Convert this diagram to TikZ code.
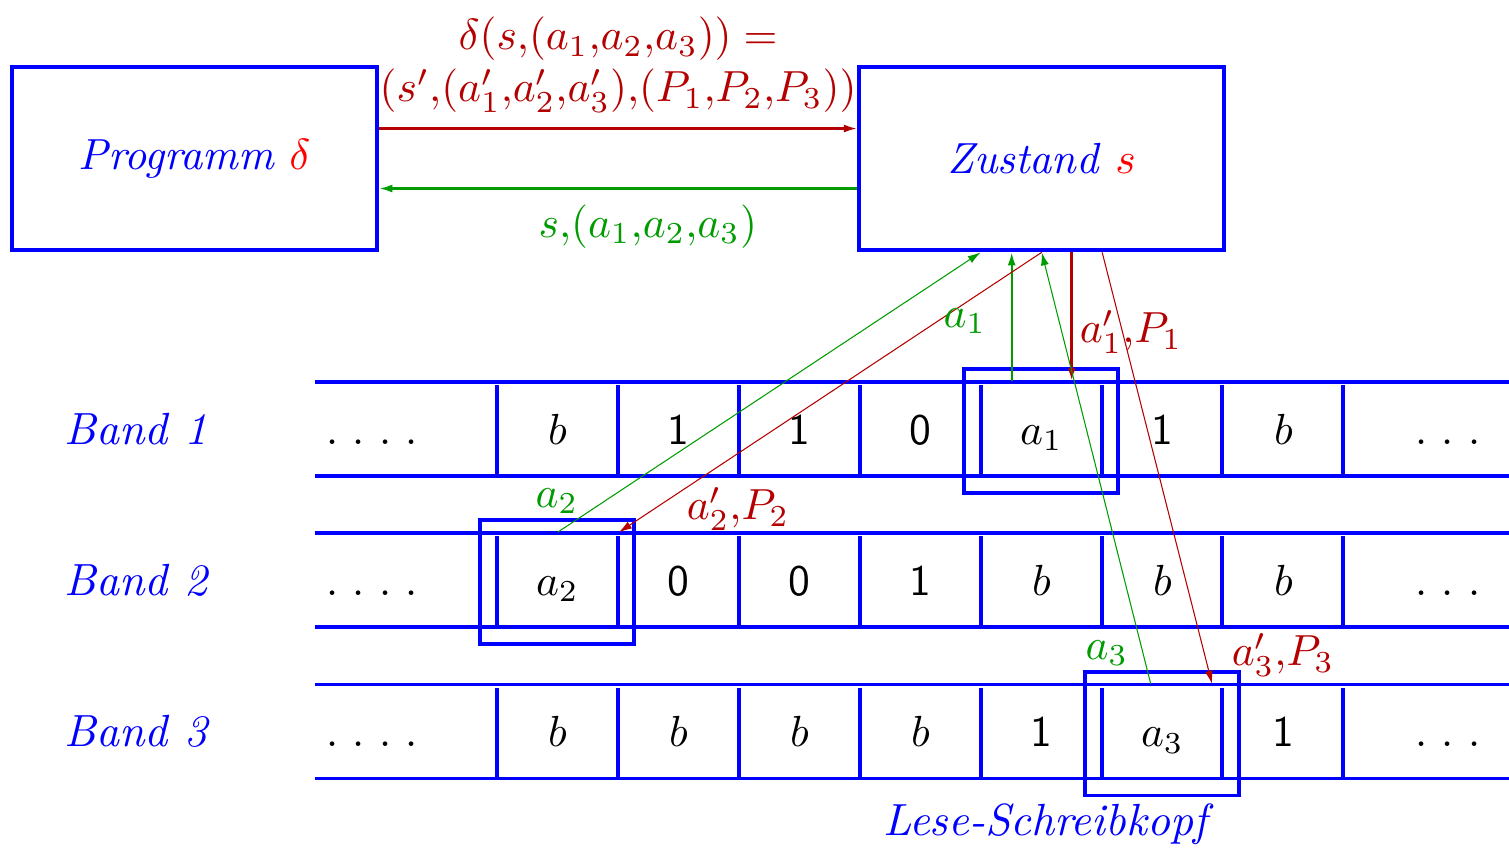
\documentclass[tikz,border=0pt]{standalone}
\usepackage{amsmath}
\usepackage{xcolor}
\usetikzlibrary{arrows.meta,positioning,calc}
\frenchspacing

\definecolor{tapeblue}{RGB}{0,0,255}
\definecolor{outred}{RGB}{180,0,0}
\definecolor{ingreen}{RGB}{0,155,0}

\tikzset{
  box/.style={draw=tapeblue,line width=1.1pt,text=tapeblue,minimum width=2.944cm,minimum height=1.476cm,inner sep=0pt},
  cell/.style={minimum width=0.976cm,minimum height=0.758cm,inner sep=0pt,text height=6.94pt,text depth=0pt},
  bandlabel/.style={text=tapeblue,font=\fontsize{10.35}{12}\selectfont\itshape,text height=7.1pt,text depth=0pt},
  tapeline/.style={draw=tapeblue,line width=1.1pt},
  head/.style={draw=tapeblue,line width=1.1pt},
  tip/.style={-{Latex[length=1.3mm,width=0.8mm]}},
  thinarrow/.style={line width=0.3pt,-{Latex[length=1.3mm,width=0.8mm]}}
}

\begin{document}
\begin{tikzpicture}[x=0.008065cm,y=-0.008065cm,scale=1.24,every node/.style={transform shape}]
  \useasboundingbox (0,0) rectangle (1509,848);

  % program and state
  \node[box] (prog) at (194.5,158.5) {\textit{Programm} \textcolor{red}{$\delta$}};
  \node[box] (zust) at (1041.5,158.5) {\textit{Zustand} \textcolor{red}{$s$}};

  \draw[outred,line width=0.6pt,tip] ($(prog.east)+(0,-30)$) --
    node[above,align=center,text=outred]
      {$\delta(s{,}(a_1{,}a_2{,}a_3)) =$\\$(s'{,}(a'_1{,}a'_2{,}a'_3){,}(P_1{,}P_2{,}P_3))$}
    ($(zust.west)+(0,-30)$);
  \draw[ingreen,line width=0.6pt,tip] ($(zust.west)+(0,30)$) --
    node[below,xshift=0.24cm,text=ingreen] {$s{,}(a_1{,}a_2{,}a_3)$}
    ($(prog.east)+(0,30)$);

  % the three tapes
  \foreach \t/\yc in {1/429,2/580,3/731.5} {
    \draw[tapeline] (315,\yc-47) -- (1509,\yc-47);
    \draw[tapeline] (315,\yc+47) -- (1509,\yc+47);
    \foreach \xs in {497,618,739,860,981,1102,1222,1343}
      \draw[tapeline] (\xs,\yc-44) -- (\xs,\yc+47);
    \node[bandlabel] (band\t) at (136,\yc) {Band \t};
    \node[cell] (l\t) at (372,\yc) {. . . .};
    \node[cell] (r\t) at (1448,\yc) {. . .};
  }
  \foreach \c [count=\i] in {$b$,\textsf{1},\textsf{1},\textsf{0},$a_1$,\textsf{1},$b$}
    \node[cell] (c1\i) at (436.5+121*\i,429) {\c};
  \foreach \c [count=\i] in {$a_2$,\textsf{0},\textsf{0},\textsf{1},$b$,$b$,$b$}
    \node[cell] (c2\i) at (436.5+121*\i,580) {\c};
  \foreach \c [count=\i] in {$b$,$b$,$b$,$b$,\textsf{1},$a_3$,\textsf{1}}
    \node[cell] (c3\i) at (436.5+121*\i,731.5) {\c};

  % read-write heads
  \draw[head] ([shift={(-16,-12)}]c15.north west) rectangle ([shift={(15,16)}]c15.south east);
  \draw[head] ([shift={(-16,-12)}]c21.north west) rectangle ([shift={(15,16)}]c21.south east);
  \draw[head] ([shift={(-16,-12)}]c36.north west) rectangle ([shift={(15,16)}]c36.south east);
  \node[text=tapeblue,font=\fontsize{10.35}{12}\selectfont\itshape] (kopf) at (1045,824) {Lese-Schreibkopf};

  % reading and writing
  \draw[ingreen,line width=0.6pt,tip] ($(c15.north)+(-30,0)$) -- ($(zust.south)+(-30,0)$);
  \draw[outred,line width=0.9pt,tip] ($(zust.south)+(30,0)$) -- ($(c15.north)+(30,0)$);
  \draw[ingreen,thinarrow] (c21.north) -- ($(zust.south)+(-61,0)$);
  \draw[outred,thinarrow] (zust.south) -- (c21.north east);
  \draw[ingreen,thinarrow] ($(c36.north)+(-12,0)$) -- (zust.south);
  \draw[outred,thinarrow] ($(zust.south)+(60.5,0)$) -- ($(c36.north east)+(-12,0)$);

  \node[text=ingreen] (la1) at (965,321) {$a_1$};
  \node[text=outred] (lw1) at (1131,332) {$a'_1{,}P_1$};
  \node[text=ingreen] (la2) at (557,501) {$a_2$};
  \node[text=outred] (lw2) at (738,509) {$a'_2{,}P_2$};
  \node[text=ingreen] (la3) at (1107,653) {$a_3$};
  \node[text=outred] (lw3) at (1283,655) {$a'_3{,}P_3$};
\end{tikzpicture}
\end{document}
